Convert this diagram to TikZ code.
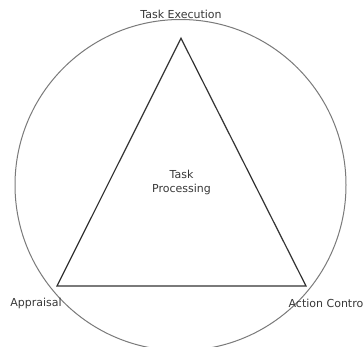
\documentclass[tikz,border=0pt]{standalone}
\usepackage{fontspec}
\setmainfont{DejaVu Sans}
\begin{document}
\begin{tikzpicture}[x=1pt,y=-1pt,
  ring/.style={draw=black!52,line width=1pt},
  tri/.style={draw=black!80,line width=1.2pt,line join=miter},
  lbl/.style={text=black!78,font=\fontsize{11}{14}\selectfont,inner sep=0pt,align=center}]
\useasboundingbox (0,0) rectangle (364,346);
\clip (0,0) rectangle (364,346);
\fill[white] (0,0) rectangle (364,346);
\coordinate (c) at (180.5,185);
\draw[ring] (c) circle[radius=165.5pt];
\coordinate (top) at (181,38.3);
\coordinate (bl) at (57,286);
\coordinate (br) at (306,286);
\draw[tri] (top) -- (bl) -- (br) -- cycle;
\node[lbl] (exe) at (181,14) {Task Execution};
\node[lbl] (app) at (36,303) {Appraisal};
\node[lbl] (act) at (327.5,303) {Action Control};
\node[lbl] (proc) at (181.5,182.5) {Task\\Processing};
\end{tikzpicture}
\end{document}
